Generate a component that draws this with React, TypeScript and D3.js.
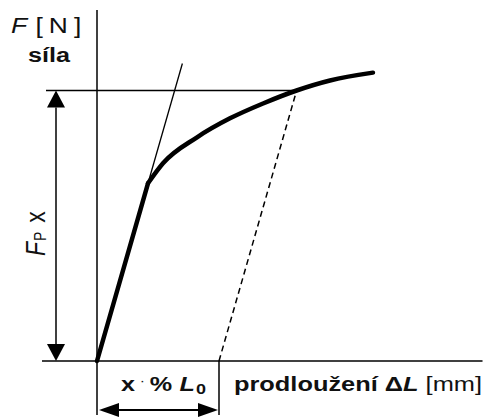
import React from "react";
import * as d3 from "d3";

// Elongation (fraction of offset x·%L0) and force (percent of F_P x)
const elasticStrain = [0, 0.418];
const elasticForce = [0, 65.7];
const plasticStrain = [0.418, 0.541, 0.82, 1.09, 1.361, 1.636, 1.91, 2.262];
const plasticForce = [65.7, 73.1, 82.7, 89.7, 95.2, 100, 103.7, 106.6];
const offsetStrain = 1; // x % L0
const proofForce = 100; // F_P x
const tangentTopForce = 110;
const axisMaxStrain = 3.16;
const axisMaxForce = 129.8;

const W = 484;
const H = 419;

export default function App() {
  const x = d3.scaleLinear().domain([0, 1]).range([97, 219]);
  const y = d3.scaleLinear().domain([0, 100]).range([361, 90.5]);

  const modulus = elasticForce[1] / elasticStrain[1];

  const lineGen = d3
    .line<[number, number]>()
    .x((d) => x(d[0]))
    .y((d) => y(d[1]));
  const curveGen = d3
    .line<[number, number]>()
    .x((d) => x(d[0]))
    .y((d) => y(d[1]))
    .curve(d3.curveMonotoneX);

  const elasticPts: [number, number][] = elasticStrain.map((s, i) => [s, elasticForce[i]]);
  const plasticPts: [number, number][] = plasticStrain.map((s, i) => [s, plasticForce[i]]);

  const tangentPts: [number, number][] = [
    [0, 0],
    [tangentTopForce / modulus, tangentTopForce],
  ];
  const offsetPts: [number, number][] = [
    [offsetStrain, 0],
    [offsetStrain + proofForce / modulus, proofForce],
  ];

  const x0 = x(0);
  const y0 = y(0);
  const yP = y(proofForce);
  const xOff = x(offsetStrain);
  const xP = x(offsetStrain + proofForce / modulus);

  // vertical dimension arrow for F_P x
  const ax = 56;
  const ahW = 9;
  const ahL = 17;
  // horizontal dimension arrow for x·%L0
  const by = 410;
  const bhW = 7;
  const bhL = 20;

  const font = "'Liberation Sans', Arial, sans-serif";
  const ink = "#111";

  return (
    <div style={{ position: "fixed", left: 0, top: 0 }}>
      <svg width={W} height={H} viewBox={`0 0 ${W} ${H}`} style={{ display: "block", background: "#fff" }}>
        <rect width={W} height={H} fill="#fff" />
        {/* axes */}
        <line x1={x0} x2={x0} y1={y(axisMaxForce)} y2={415} stroke="#000" strokeWidth={1.5} />
        <line x1={42} x2={x(axisMaxStrain)} y1={y0} y2={y0} stroke="#000" strokeWidth={1.5} />
        {/* proof force level */}
        <line x1={46} x2={xP} y1={yP} y2={yP} stroke="#000" strokeWidth={1.5} />
        {/* offset extension tick */}
        <line x1={xOff} x2={xOff} y1={y0} y2={415} stroke="#000" strokeWidth={1.5} />

        {/* elastic tangent */}
        <path d={lineGen(tangentPts) || ""} fill="none" stroke="#000" strokeWidth={1.3} />
        {/* offset line */}
        <path d={lineGen(offsetPts) || ""} fill="none" stroke="#000" strokeWidth={1.5} strokeDasharray="6,4" />

        {/* force-extension curve */}
        <path d={lineGen(elasticPts) || ""} fill="none" stroke="#000" strokeWidth={4.5} strokeLinecap="round" />
        <path d={curveGen(plasticPts) || ""} fill="none" stroke="#000" strokeWidth={4.5} strokeLinecap="round" strokeLinejoin="round" />

        {/* F_P x dimension */}
        <line x1={ax} x2={ax} y1={yP + ahL} y2={y0 - ahL} stroke="#000" strokeWidth={1.5} />
        <polygon points={`${ax},${yP} ${ax - ahW},${yP + ahL} ${ax + ahW},${yP + ahL}`} fill="#000" />
        <polygon points={`${ax},${y0} ${ax - ahW},${y0 - ahL} ${ax + ahW},${y0 - ahL}`} fill="#000" />

        {/* x·%L0 dimension */}
        <line x1={x0 + 2 + bhL} x2={xOff - 1 - bhL} y1={by} y2={by} stroke="#000" strokeWidth={1.8} />
        <polygon points={`${x0 + 2},${by} ${x0 + 2 + bhL},${by - bhW} ${x0 + 2 + bhL},${by + bhW}`} fill="#000" />
        <polygon points={`${xOff - 1},${by} ${xOff - 1 - bhL},${by - bhW} ${xOff - 1 - bhL},${by + bhW}`} fill="#000" />

        {/* labels */}
        <text transform="translate(11,33) scale(1.2,1)" fontFamily={font} fontSize={22} fill={ink}>
          <tspan fontStyle="italic">F</tspan>
          <tspan dx={7}>[</tspan>
          <tspan dx={5}>N</tspan>
          <tspan dx={5}>]</tspan>
        </text>
        <text transform="translate(28,62) scale(1.2,1)" fontFamily={font} fontSize={21} fontWeight="bold" fill={ink}>
          síla
        </text>

        <text transform="translate(45,256) scale(1.2,1) rotate(-90)" fontFamily={font} fontSize={23} fill={ink}>
          <tspan fontStyle="italic">F</tspan>
          <tspan fontSize={14} dx={1} dy={1}>P</tspan>
          <tspan dx={9} dy={-1}>x</tspan>
        </text>

        <text transform="translate(121,391) scale(1.2,1)" fontFamily={font} fontSize={21} fontWeight="bold" fill={ink}>
          <tspan>x</tspan>
          <tspan dx={4} fontWeight="normal" dy={-6} fontSize={13}>·</tspan>
          <tspan dx={4} dy={6}>%</tspan>
          <tspan dx={6} fontStyle="italic">L</tspan>
          <tspan fontSize={15} dx={1} dy={3}>0</tspan>
        </text>

        <text
          x={234}
          y={391}
          textLength={248}
          lengthAdjust="spacingAndGlyphs"
          fontFamily={font}
          fontSize={21}
          fontWeight="bold"
          fill={ink}
        >
          prodloužení Δ<tspan fontStyle="italic">L</tspan>
          <tspan fontWeight="normal"> [mm]</tspan>
        </text>
      </svg>
    </div>
  );
}
